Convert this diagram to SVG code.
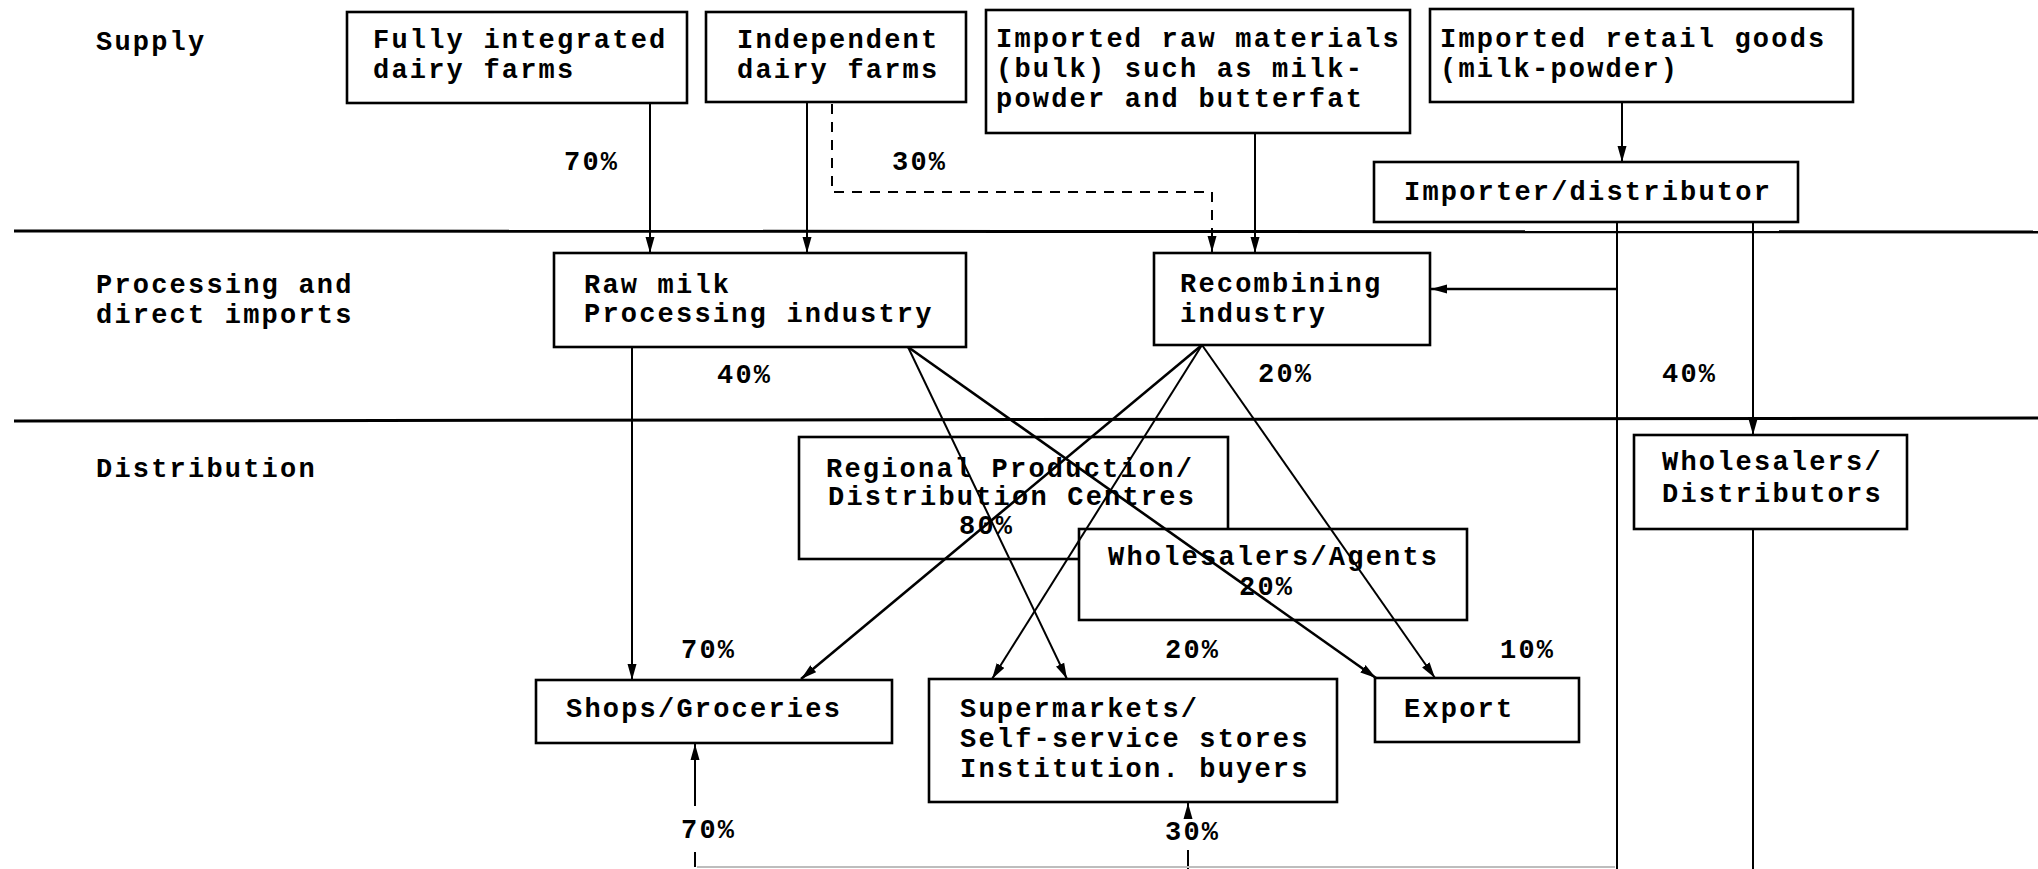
<svg xmlns="http://www.w3.org/2000/svg" width="2038" height="869" viewBox="0 0 2038 869">
  <style>
    text { font-family: "Liberation Mono", "DejaVu Sans Mono", monospace; font-size: 27px; letter-spacing: 2.2px; font-weight: bold; fill: #000; }
    .box { fill: #fff; stroke: #000; stroke-width: 2.6; }
    .sep { stroke: #000; stroke-width: 3; fill: none; }
    .link { stroke: #000; stroke-width: 2; fill: none; }
    .thick { stroke-width: 2.6; }
    .dash { stroke-dasharray: 10 8; }
    .faint { stroke: #bdbdbd; stroke-width: 2; fill: none; }
  </style>
  <defs>
    <marker id="arrow" markerUnits="userSpaceOnUse" markerWidth="16" markerHeight="10" refX="16" refY="5" orient="auto">
      <path d="M0,0.5 L16,5 L0,9.5 Z" fill="#000"/>
    </marker>
  </defs>

  <rect width="2038" height="869" fill="#fff"/>

  <!-- stage separators -->
  <g id="separators">
    <line class="sep" x1="14" y1="231" x2="2038" y2="232"/>
    <line class="sep" x1="14" y1="421" x2="2038" y2="418"/>
  </g>

  <!-- stage labels -->
  <g id="stage-labels">
    <text x="96" y="50">Supply</text>
    <text x="96" y="293">Processing and</text>
    <text x="96" y="323">direct imports</text>
    <text x="96" y="477">Distribution</text>
  </g>

  <!-- supply -->
  <g id="fully-integrated-farms">
    <rect class="box" x="347" y="12" width="340" height="91"/>
    <text x="373" y="48">Fully integrated</text>
    <text x="373" y="78">dairy farms</text>
  </g>
  <g id="independent-farms">
    <rect class="box" x="706" y="12" width="260" height="90"/>
    <text x="737" y="48">Independent</text>
    <text x="737" y="78">dairy farms</text>
  </g>
  <g id="imported-raw-materials">
    <rect class="box" x="986" y="10" width="424" height="123"/>
    <text x="996" y="47">Imported raw materials</text>
    <text x="996" y="77">(bulk) such as milk-</text>
    <text x="996" y="107">powder and butterfat</text>
  </g>
  <g id="imported-retail-goods">
    <rect class="box" x="1430" y="9" width="423" height="93"/>
    <text x="1440" y="47">Imported retail goods</text>
    <text x="1440" y="77">(milk-powder)</text>
  </g>
  <g id="importer-distributor">
    <rect class="box" x="1374" y="162" width="424" height="60"/>
    <text x="1404" y="200">Importer/distributor</text>
  </g>

  <!-- processing -->
  <g id="raw-milk-processing">
    <rect class="box" x="554" y="253" width="412" height="94"/>
    <text x="584" y="293">Raw milk</text>
    <text x="584" y="322">Processing industry</text>
  </g>
  <g id="recombining-industry">
    <rect class="box" x="1154" y="253" width="276" height="92"/>
    <text x="1180" y="292">Recombining</text>
    <text x="1180" y="322">industry</text>
  </g>

  <!-- distribution -->
  <g id="regional-centres">
    <rect class="box" x="799" y="437" width="429" height="122"/>
    <text x="826" y="477">Regional Production/</text>
    <text x="828" y="505">Distribution Centres</text>
    <text x="959" y="534">80%</text>
  </g>
  <g id="wholesalers-agents">
    <rect class="box" x="1079" y="529" width="388" height="91"/>
    <text x="1108" y="565">Wholesalers/Agents</text>
    <text x="1239" y="595">20%</text>
  </g>
  <g id="wholesalers-distributors">
    <rect class="box" x="1634" y="435" width="273" height="94"/>
    <text x="1662" y="470">Wholesalers/</text>
    <text x="1662" y="502">Distributors</text>
  </g>

  <!-- outlets -->
  <g id="shops-groceries">
    <rect class="box" x="536" y="680" width="356" height="63"/>
    <text x="566" y="717">Shops/Groceries</text>
  </g>
  <g id="supermarkets">
    <rect class="box" x="929" y="679" width="408" height="123"/>
    <text x="960" y="717">Supermarkets/</text>
    <text x="960" y="747">Self-service stores</text>
    <text x="960" y="777">Institution. buyers</text>
  </g>
  <g id="export">
    <rect class="box" x="1375" y="678" width="204" height="64"/>
    <text x="1404" y="717">Export</text>
  </g>

  <!-- share labels -->
  <g id="shares">
    <text x="564" y="170">70%</text>
    <text x="892" y="170">30%</text>
    <text x="717" y="383">40%</text>
    <text x="1258" y="382">20%</text>
    <text x="1662" y="382">40%</text>
    <text x="681" y="658">70%</text>
    <text x="1165" y="658">20%</text>
    <text x="1500" y="658">10%</text>
    <text x="681" y="838">70%</text>
    <text x="1165" y="840">30%</text>
  </g>

  <!-- connectors -->
  <g id="connectors">
    <path class="link" d="M650,103 V253" marker-end="url(#arrow)"/>
    <path class="link" d="M807,102 V253" marker-end="url(#arrow)"/>
    <path class="link dash" d="M832,104 V192 H1212 V252" marker-end="url(#arrow)"/>
    <path class="link" d="M1255,133 V253" marker-end="url(#arrow)"/>
    <path class="link" d="M1622,102 V162" marker-end="url(#arrow)"/>
    <path class="link" d="M1617,222 V869"/>
    <path class="link thick" d="M1617,289 H1431" marker-end="url(#arrow)"/>
    <path class="link" d="M1753,222 V435" marker-end="url(#arrow)"/>
    <path class="link" d="M1753,529 V869"/>

    <path class="link" d="M632,347 V680" marker-end="url(#arrow)"/>
    <path class="link" d="M908,347 L1067,679" marker-end="url(#arrow)"/>
    <path class="link thick" d="M908,347 L1376,678" marker-end="url(#arrow)"/>
    <path class="link thick" d="M1202,345 L801,679" marker-end="url(#arrow)"/>
    <path class="link" d="M1202,345 L992,679" marker-end="url(#arrow)"/>
    <path class="link" d="M1202,345 L1435,678" marker-end="url(#arrow)"/>

    <path class="link" d="M695,806 V744" marker-end="url(#arrow)"/>
    <path class="link" d="M695,852 V867"/>
    <path class="link" d="M1188,817 V803" marker-end="url(#arrow)"/>
    <path class="link" d="M1188,850 V869"/>
    <path class="faint" d="M697,867 H1615"/>
  </g>
</svg>
